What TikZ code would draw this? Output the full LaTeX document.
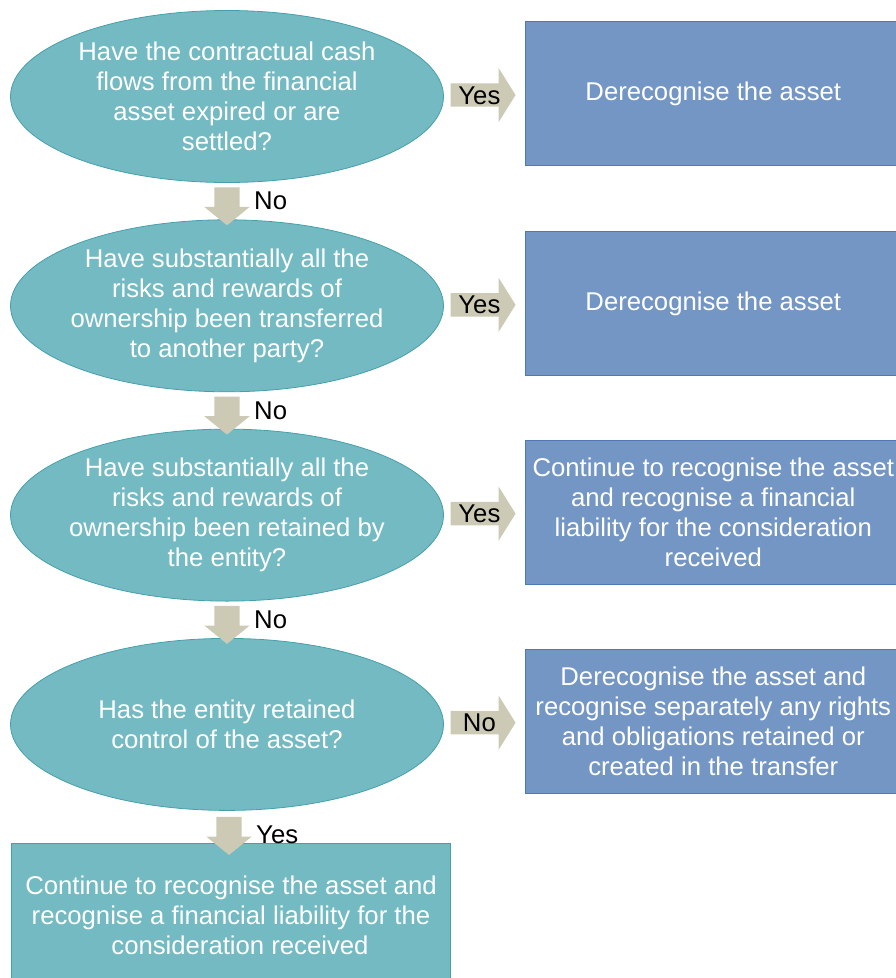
\documentclass[tikz,border=0pt]{standalone}
\usepackage{fontspec}
\setmainfont{Liberation Sans}
\usetikzlibrary{shapes, shapes.arrows, positioning, calc}
\definecolor{tealfill}{RGB}{116,186,194}
\definecolor{tealline}{RGB}{70,160,172}
\definecolor{bluefill}{RGB}{116,150,196}
\definecolor{blueline}{RGB}{79,120,180}
\definecolor{arrowfill}{RGB}{204,202,180}

\begin{document}
\begin{tikzpicture}[x=1pt, y=-1pt,
    question/.style={ellipse, 
      draw=tealline, 
      fill=tealfill, 
      line width=0.8pt, 
      minimum width=433pt, 
      minimum height=172pt, 
      inner xsep=-12pt, 
      inner ysep=0pt, 
      align=center, 
      text=white, 
      font=\fontsize{25.7}{30}\selectfont},
    outcome/.style={rectangle, 
      draw=blueline, 
      fill=bluefill, 
      line width=0.8pt, 
      minimum width=376pt, 
      minimum height=144pt, 
      inner sep=0pt, 
      align=center, 
      text=white, 
      font=\fontsize{25.7}{30}\selectfont},
    yesarrow/.style={single arrow, 
      fill=arrowfill, 
      single arrow head extend=15.5pt, 
      single arrow tip angle=116, 
      minimum height=65pt, 
      inner xsep=2pt, 
      inner ysep=2.5pt, 
      text height=18pt, 
      text depth=0pt, 
      font=\fontsize{25.7}{30}\selectfont},
    noarrow/.style={single arrow, 
      shape border rotate=270, 
      fill=arrowfill, 
      single arrow head extend=10pt, 
      single arrow tip angle=102, 
      minimum height=38pt, 
      inner sep=12.5pt},
    answer/.style={anchor=west, 
      inner sep=0pt, 
      font=\fontsize{25.7}{30}\selectfont}]
  \useasboundingbox (0,0) rectangle (896,978);

% QUESTIONS

  \node [question] (expired) at (227,96.5) {Have the contractual cash\\
    flows from the financial\\
    asset expired or are\\
    settled?};

  \node [question, below=36.5pt of expired] (transferred) {Have substantially all the\\
    risks and rewards of\\
    ownership been transferred\\
    to another party?};

  \node [question, below=36.5pt of transferred] (retained) {Have substantially all the\\
    risks and rewards of\\
    ownership been retained by\\
    the entity?};

  \node [question, below=36.5pt of retained] (control) {Has the entity retained\\
    control of the asset?};

  % OUTCOMES

  \node [outcome, right=81pt of expired, yshift=3pt] (derecA) {Derecognise the asset};

  \node [outcome, right=81pt of transferred, yshift=2pt] (derecB) {Derecognise the asset};

  \node [outcome, right=81pt of retained, yshift=3pt] (contA) {Continue to recognise the asset\\
    and recognise a financial\\
    liability for the consideration\\
    received};

  \node [outcome, right=81pt of control, yshift=3.5pt] (derecC) {Derecognise the asset and\\
    recognise separately any rights\\
    and obligations retained or\\
    created in the transfer};

  \node [outcome, 
    draw=tealline, 
    fill=tealfill, 
    minimum width=439pt, 
    below=32pt of control, 
    xshift=4pt] (contB) {Continue to recognise the asset and\\
    recognise a financial liability for the\\
    \hspace*{0.7em}consideration received};

  % ARROWS

  \node [yesarrow, xshift=-5pt] (yesA) at ($(expired.east)!0.5!(derecA.west)$) {Yes};
  \node [yesarrow, xshift=-5pt] (yesB) at ($(transferred.east)!0.5!(derecB.west)$) {Yes};
  \node [yesarrow, xshift=-5pt] (yesC) at ($(retained.east)!0.5!(contA.west)$) {Yes};
  \node [yesarrow, xshift=-5pt] (noD) at ($(control.east)!0.5!(derecC.west)$) {No};

  \node [noarrow] (noA) at ($(expired.south)!0.5!(transferred.north)$) {};
  \node [noarrow] (noB) at ($(transferred.south)!0.5!(retained.north)$) {};
  \node [noarrow] (noC) at ($(retained.south)!0.5!(control.north)$) {};
  \node [noarrow, yshift=-4pt] (yesD) at ($(control.south)!0.5!(contB.north)$) {};

  \node [answer] (noAlabel) at ([xshift=27pt]noA.center) {No};
  \node [answer] (noBlabel) at ([xshift=27pt]noB.center) {No};
  \node [answer] (noClabel) at ([xshift=27pt]noC.center) {No};
  \node [answer] (yesDlabel) at ([xshift=27pt, yshift=-4pt]yesD.center) {Yes};

\end{tikzpicture}
\end{document}
